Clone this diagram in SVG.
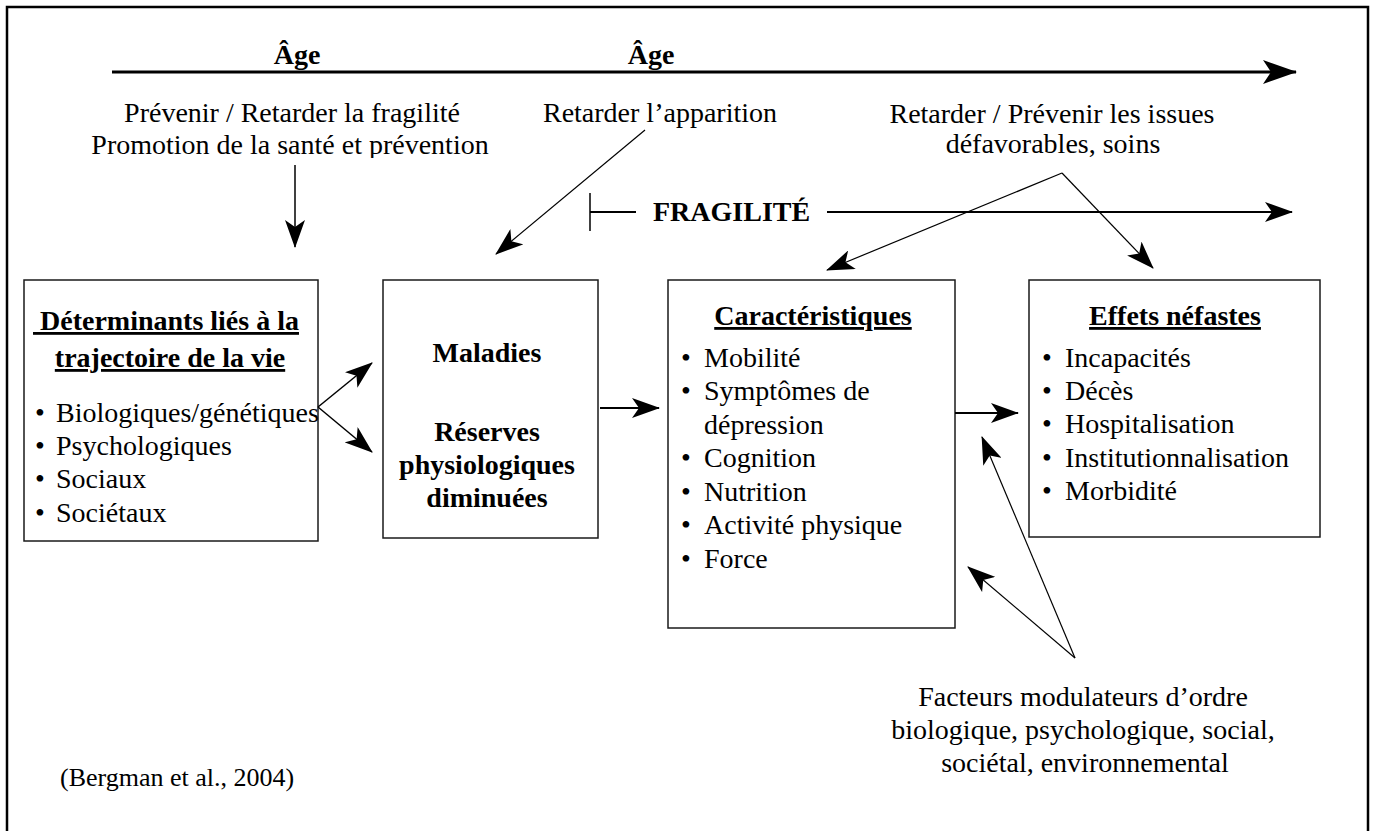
<svg xmlns="http://www.w3.org/2000/svg" width="1377" height="831" viewBox="0 0 1377 831">
<style>
  text { font-family: "Liberation Serif", "Times New Roman", serif; font-size: 28px; fill: #000; }
  .b { font-weight: bold; }
  .u { text-decoration: underline; }
  .m { text-anchor: middle; }
  .box { fill: #fff; stroke: #1a1a1a; stroke-width: 1.5; }
  .ln { fill: none; stroke: #000; }
  .thin { stroke-width: 1.2; }
  .mid { stroke-width: 2; }
</style>
<defs>
  <marker id="ah" markerUnits="userSpaceOnUse" viewBox="0 0 28 20" refX="27" refY="10" markerWidth="28" markerHeight="20" orient="auto">
    <path d="M0,0 L28,10 L0,20 L7,10 Z" fill="#000"/>
  </marker>
  <marker id="ahB" markerUnits="userSpaceOnUse" viewBox="0 0 34 24" refX="33" refY="12" markerWidth="34" markerHeight="24" orient="auto">
    <path d="M0,0 L34,12 L0,24 L8,12 Z" fill="#000"/>
  </marker>
  <clipPath id="clipP"><rect x="0" y="128" width="700" height="30"/></clipPath>
</defs>

<rect x="7" y="7" width="1361" height="850" fill="#fff" stroke="#000" stroke-width="2.5"/>

<g id="age-axis">
  <text class="b m" x="297" y="64">Âge</text>
  <text class="b m" x="651" y="64">Âge</text>
</g>

<g id="label-prevenir">
  <text class="m" x="292" y="122">Prévenir / Retarder la fragilité</text>
  <g clip-path="url(#clipP)">
    <text class="m" x="290" y="154">Promotion de la santé et prévention</text>
  </g>
</g>

<g id="label-apparition">
  <text class="m" x="660" y="122">Retarder l’apparition</text>
</g>

<g id="label-issues">
  <text class="m" x="1052" y="123">Retarder / Prévenir les issues</text>
  <text class="m" x="1053" y="153">défavorables, soins</text>
</g>

<g id="fragilite">
  <text class="b" x="653" y="221">FRAGILITÉ</text>
</g>

<g id="determinants">
  <rect class="box" x="24" y="280" width="294" height="261"/>
  <text class="b u m" x="166" y="330">&#160;Déterminants liés à la</text>
  <text class="b u m" x="170" y="367">trajectoire de la vie</text>
  <text class="m" x="40" y="422">•</text><text x="56" y="422">Biologiques/génétiques</text>
  <text class="m" x="40" y="455">•</text><text x="56" y="455">Psychologiques</text>
  <text class="m" x="40" y="488">•</text><text x="56" y="488">Sociaux</text>
  <text class="m" x="40" y="522">•</text><text x="56" y="522">Sociétaux</text>
</g>

<g id="maladies">
  <rect class="box" x="383" y="280" width="215" height="258"/>
  <text class="b m" x="487" y="362">Maladies</text>
  <text class="b m" x="487" y="441">Réserves</text>
  <text class="b m" x="487" y="474">physiologiques</text>
  <text class="b m" x="487" y="507">diminuées</text>
</g>

<g id="caracteristiques">
  <rect class="box" x="668" y="280" width="287" height="348"/>
  <text class="b u m" x="813" y="325">Caractéristiques</text>
  <text class="m" x="686" y="367">•</text><text x="704" y="367">Mobilité</text>
  <text class="m" x="686" y="400">•</text><text x="704" y="400">Symptômes de</text>
  <text x="704" y="434">dépression</text>
  <text class="m" x="686" y="467">•</text><text x="704" y="467">Cognition</text>
  <text class="m" x="686" y="501">•</text><text x="704" y="501">Nutrition</text>
  <text class="m" x="686" y="534">•</text><text x="704" y="534">Activité physique</text>
  <text class="m" x="686" y="568">•</text><text x="704" y="568">Force</text>
</g>

<g id="effets">
  <rect class="box" x="1029" y="280" width="291" height="257"/>
  <text class="b u m" x="1175" y="325">Effets néfastes</text>
  <text class="m" x="1047" y="367">•</text><text x="1065" y="367">Incapacités</text>
  <text class="m" x="1047" y="400">•</text><text x="1065" y="400">Décès</text>
  <text class="m" x="1047" y="433">•</text><text x="1065" y="433">Hospitalisation</text>
  <text class="m" x="1047" y="467">•</text><text x="1065" y="467">Institutionnalisation</text>
  <text class="m" x="1047" y="500">•</text><text x="1065" y="500">Morbidité</text>
</g>

<g id="facteurs">
  <text class="m" x="1083" y="706">Facteurs modulateurs d’ordre</text>
  <text class="m" x="1083" y="739">biologique, psychologique, social,</text>
  <text class="m" x="1085" y="772">sociétal, environnemental</text>
</g>

<g id="source">
  <text style="font-size:26px" x="60" y="786">(Bergman et al., 2004)</text>
</g>

<g id="connectors">
  <line class="ln" x1="112" y1="72" x2="1296" y2="72" stroke-width="3" marker-end="url(#ahB)"/>
  <line class="ln" x1="295" y1="165" x2="295" y2="247" stroke-width="1.5" marker-end="url(#ah)"/>
  <line class="ln thin" x1="645" y1="130" x2="496" y2="254" marker-end="url(#ah)"/>
  <line class="ln" x1="590" y1="193" x2="590" y2="231" stroke-width="1.5"/>
  <line class="ln mid" x1="590" y1="212" x2="636" y2="212"/>
  <line class="ln mid" x1="827" y1="212" x2="1292" y2="212" marker-end="url(#ah)"/>
  <line class="ln thin" x1="1062" y1="173" x2="827" y2="270" marker-end="url(#ah)"/>
  <line class="ln thin" x1="1062" y1="173" x2="1153" y2="268" marker-end="url(#ah)"/>
  <line class="ln" x1="318" y1="407" x2="372" y2="363" stroke-width="1.5" marker-end="url(#ah)"/>
  <line class="ln" x1="318" y1="407" x2="372" y2="452" stroke-width="1.5" marker-end="url(#ah)"/>
  <line class="ln mid" x1="600" y1="408" x2="659" y2="408" marker-end="url(#ah)"/>
  <line class="ln mid" x1="955" y1="413" x2="1018" y2="413" marker-end="url(#ah)"/>
  <line class="ln thin" x1="1075" y1="658" x2="982" y2="437" marker-end="url(#ah)"/>
  <line class="ln thin" x1="1075" y1="658" x2="968" y2="567" marker-end="url(#ah)"/>
</g>
</svg>
